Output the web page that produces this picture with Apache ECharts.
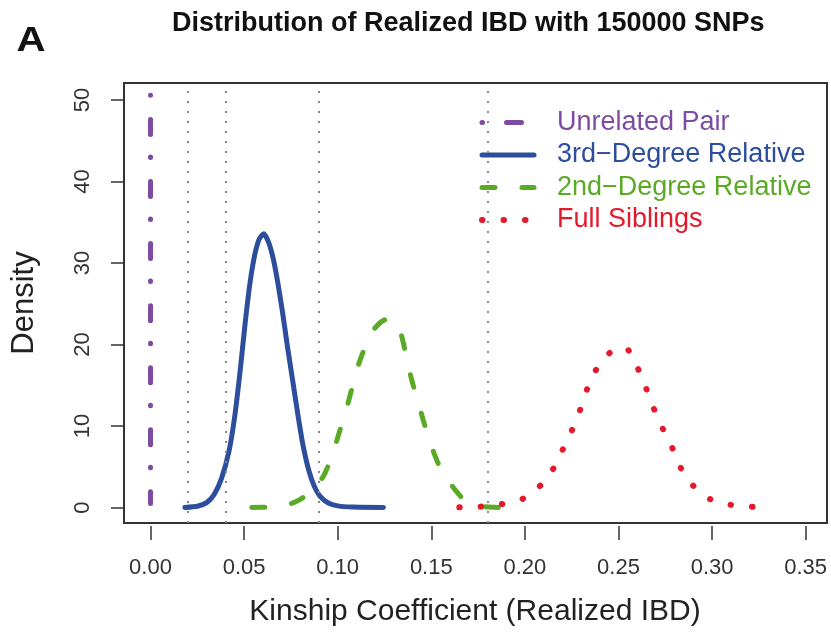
<!DOCTYPE html>
<html><head><meta charset="utf-8">
<script src="https://cdn.jsdelivr.net/npm/echarts@6/dist/echarts.min.js"></script>
<style>html,body{margin:0;padding:0;background:#fff}#c{width:831px;height:643px}</style>
</head><body><div id="c"></div>
<script>
// ---- data ----
const xTicks = [0, 0.05, 0.10, 0.15, 0.20, 0.25, 0.30, 0.35];
const yTicks = [0, 10, 20, 30, 40, 50];
const thresholds = [0.0221, 0.0442, 0.0884, 0.1768];
const seriesNames = ['Unrelated Pair', '3rd\u2212Degree Relative', '2nd\u2212Degree Relative', 'Full Siblings'];

const unrelatedX = [0, 0];
const unrelatedY = [50.6, 0.5];

const thirdX = [0.0184,0.0250,0.0300,0.0340,0.0380,0.0420,0.0450,0.0480,0.0505,0.0530,0.0555,0.0580,0.0605,0.0630,0.0655,0.0680,0.0705,0.0730,0.0760,0.0790,0.0815,0.0845,0.0875,0.0905,0.0950,0.1000,0.1080,0.1244];
const thirdY = [0,0.15,0.6,1.6,3.6,7.0,11.2,17.0,22.5,27.3,30.8,32.9,33.6,32.6,30.6,27.6,24.0,20.0,15.5,11.0,7.6,4.6,2.6,1.4,0.55,0.2,0.05,0];

const secondX = [0.0541,0.0640,0.0700,0.0754,0.0800,0.0843,0.0885,0.0923,0.0968,0.1012,0.1048,0.1083,0.1115,0.1155,0.1190,0.1240,0.1280,0.1315,0.1342,0.1369,0.1395,0.1431,0.1460,0.1500,0.1537,0.1600,0.1660,0.1720,0.1790,0.1876];
const secondY = [0,0.05,0.2,0.5,1.0,1.7,2.7,3.8,6.2,9.5,12.2,15.2,17.8,20.2,21.8,22.9,23.2,22.5,21.0,18.3,15.7,12.8,10.5,7.6,5.4,3.0,1.3,0.5,0.1,0];

const sibX = [0.1650,0.1760,0.1870,0.1979,0.2074,0.2145,0.2200,0.2250,0.2294,0.2332,0.2380,0.2455,0.2538,0.2599,0.2645,0.2686,0.2734,0.2786,0.2832,0.2898,0.2989,0.3097,0.3208,0.3318];
const sibY = [0.02,0.1,0.4,0.96,2.5,4.5,7.0,9.4,11.9,14.5,16.9,19.0,19.6,17.3,14.8,12.3,9.8,7.4,4.9,2.7,1.04,0.34,0.1,0.02];

const colors = ['#7D4CA0', '#2D4E9C', '#5BAA25', '#E41A2C'];
const dashes = [[0.5, 24, 15, 22.5], 'solid', [13, 27], [0.5, 21]];
const widths = [5, 5, 5, 6];

// ---- chart ----
const zip = (xs, ys) => xs.map((x, i) => [x, ys[i]]);
const FONT = 'Liberation Sans, Arial, Helvetica, sans-serif';

const chart = echarts.init(document.getElementById('c'), null, {renderer: 'canvas'});

function curve(i, xs, ys) {
  return {
    name: seriesNames[i], type: 'line', data: zip(xs, ys), symbol: 'none', smooth: 0.2,
    z: 3, silent: true,
    lineStyle: {color: colors[i], width: widths[i], type: dashes[i], cap: 'round', join: 'round'},
    itemStyle: {color: colors[i]}
  };
}

chart.setOption({
  animation: false,
  backgroundColor: '#fff',
  textStyle: {fontFamily: FONT},
  grid: {left: 124, top: 83, width: 703, height: 440, show: true,
         borderColor: '#333', borderWidth: 2, backgroundColor: 'transparent',
         containLabel: false, outerBoundsMode: 'none'},
  xAxis: {
    type: 'value', min: -0.01416, max: 0.3614, offset: 3, position: 'bottom',
    axisLine: {show: false, onZero: false}, splitLine: {show: false},
    axisTick: {show: true, length: 14, inside: false, customValues: xTicks,
               lineStyle: {color: '#333', width: 1.5}},
    axisLabel: {show: true, customValues: xTicks, margin: 31, fontSize: 22,
                color: '#333', fontFamily: FONT, formatter: v => v.toFixed(2)}
  },
  yAxis: {
    type: 'value', min: -1.90, max: 52.09, position: 'left',
    axisLine: {show: false, onZero: false}, splitLine: {show: false},
    axisTick: {show: true, length: 13, inside: false, customValues: yTicks,
               lineStyle: {color: '#333', width: 1.5}},
    axisLabel: {show: true, customValues: yTicks, margin: 30, fontSize: 22, rotate: 90,
                color: '#333', fontFamily: FONT, formatter: v => String(v)}
  },
  legend: {
    show: true, orient: 'vertical', left: 479, top: 109, padding: 0,
    itemWidth: 52, itemHeight: 10, itemGap: 5.5, selectedMode: false,
    itemStyle: {opacity: 0},
    textStyle: {fontSize: 27, fontFamily: FONT, padding: [0, 0, 0, 18], lineHeight: 27},
    data: seriesNames.map((n, i) => ({
      name: n, textStyle: {color: colors[i]},
      itemStyle: {opacity: 0},
      lineStyle: {color: colors[i], width: widths[i], type: dashes[i], cap: 'round'}
    }))
  },
  series: [
    {
      name: 'thresholds', type: 'line', data: [], silent: true, z: 1,
      markLine: {
        silent: true, symbol: ['none', 'none'], label: {show: false}, animation: false,
        lineStyle: {color: '#888', width: 2, type: [2, 8]},
        emphasis: {disabled: true},
        data: thresholds.map(t => ({xAxis: t}))
      }
    },
    curve(0, unrelatedX, unrelatedY),
    curve(1, thirdX, thirdY),
    curve(2, secondX, secondY),
    curve(3, sibX, sibY)
  ],
  graphic: [
    {type: 'text', x: 31, y: 41, scaleX: 1.15, silent: true,
     style: {text: 'A', x: 0, y: 0, align: 'center', verticalAlign: 'middle',
             font: 'bold 35px ' + FONT, fill: '#111'}},
    {type: 'text', x: 172, y: 24, silent: true,
     style: {text: 'Distribution of Realized IBD with 150000 SNPs', x: 0, y: 0,
             align: 'left', verticalAlign: 'middle', font: 'bold 27px ' + FONT, fill: '#111'}},
    {type: 'text', x: 475, y: 612, silent: true,
     style: {text: 'Kinship Coefficient (Realized IBD)', x: 0, y: 0,
             align: 'center', verticalAlign: 'middle', font: '30px ' + FONT, fill: '#222'}},
    {type: 'text', x: 24, y: 303, rotation: Math.PI / 2, silent: true,
     style: {text: 'Density', x: 0, y: 0,
             align: 'center', verticalAlign: 'middle', font: '31px ' + FONT, fill: '#222'}}
  ]
});
</script>
</body></html>
